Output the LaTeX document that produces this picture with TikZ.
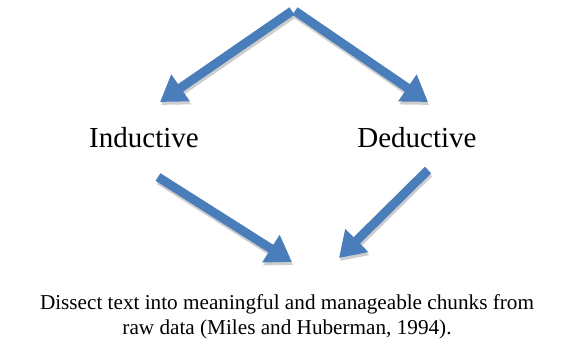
\documentclass[tikz,border=0pt]{standalone}
\usepackage{fontspec}
\setmainfont{Liberation Serif}
\usetikzlibrary{arrows.meta}
\definecolor{arrowblue}{RGB}{74,126,187}
\definecolor{shadowgray}{RGB}{205,205,205}
\tikzset{
  blockarrow/.style={draw=arrowblue, line width=9pt,
    -{Triangle[width=31pt,length=25pt]}},
  blockshadow/.style={draw=shadowgray, line width=9pt,
    -{Triangle[width=31pt,length=25pt]}},
  label/.style={font=\fontsize{29}{34}\selectfont, anchor=base, inner sep=0pt},
  caption/.style={font=\fontsize{21.2}{25}\selectfont, align=center, anchor=base, inner sep=0pt}
}
\begin{document}
\begin{tikzpicture}[x=1pt,y=-1pt]
  \useasboundingbox (0,0) rectangle (574,351);
  % apex and arrow ends
  \coordinate (apexL) at (292,11);
  \coordinate (apexR) at (295,11);
  \coordinate (tipL) at (160,102);
  \coordinate (tipR) at (428,102);
  \coordinate (fromI) at (158,177);
  \coordinate (toI) at (292,262);
  \coordinate (fromD) at (428,170);
  \coordinate (toD) at (339,258);
  % labels
  \node[label] (ind) at (144,147) {Inductive};
  \node[label] (ded) at (417,147) {Deductive};
  \node[caption] (cap) at (287,334) {Dissect text into meaningful and manageable chunks from\\raw data (Miles and Huberman, 1994).};
  % shadows
  \foreach \a/\b in {apexL/tipL, apexR/tipR, fromI/toI, fromD/toD}
    \draw[blockshadow] ([shift={(1,3)}]\a) -- ([shift={(1,3)}]\b);
  % arrows
  \draw[blockarrow] (apexL) -- (tipL);
  \draw[blockarrow] (apexR) -- (tipR);
  \draw[blockarrow] (fromI) -- (toI);
  \draw[blockarrow] (fromD) -- (toD);
\end{tikzpicture}
\end{document}
